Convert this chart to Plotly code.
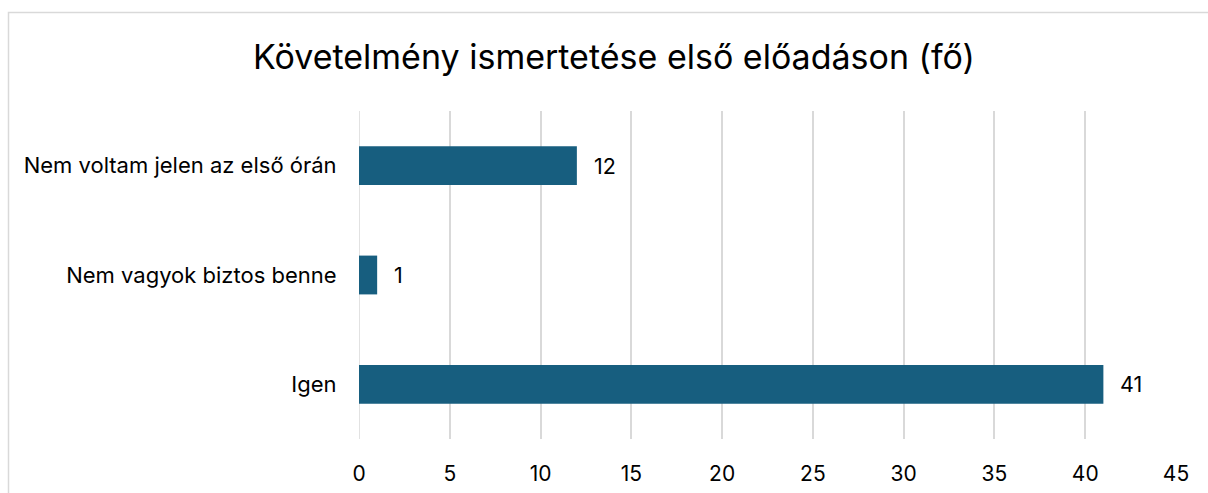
import plotly.graph_objects as go

categories = ["Igen", "Nem vagyok biztos benne", "Nem voltam jelen az első órán"]
values = [41, 1, 12]
tick_vals = [0, 5, 10, 15, 20, 25, 30, 35, 40, 45]
title_text = "Követelmény ismertetése első előadáson (fő)"

FONT = "Inter, Lato, sans-serif"
W, H = 1208, 493
ML, MT = 359, 111
PW, PH = 817, 328
MR = W - ML - PW
MB = H - MT - PH

fig = go.Figure()
fig.add_trace(go.Bar(
    y=categories, x=values, orientation="h",
    marker=dict(color="#175E7F", line=dict(width=0)),
    width=0.355, hoverinfo="skip",
))

for c, v in zip(categories, values):
    fig.add_annotation(x=v, y=c, text=str(v), showarrow=False,
                       xanchor="left", xshift=15, font=dict(size=21.5, color="#000", family=FONT))

fig.add_shape(type="rect", xref="paper", yref="paper",
              x0=(8.5 - ML) / PW, x1=(W + 20 - ML) / PW,
              y0=(MT + PH - (H + 20)) / PH, y1=(MT + PH - 12.5) / PH,
              line=dict(color="#d9d9d9", width=1.5), fillcolor="rgba(0,0,0,0)", layer="below")

fig.update_layout(
    width=W, height=H,
    margin=dict(l=ML, r=MR, t=MT, b=MB, autoexpand=False),
    paper_bgcolor="white", plot_bgcolor="white",
    title=dict(text=title_text, x=(614 - ML) / PW, xref="paper", xanchor="center",
               y=1 - 57 / H, yanchor="middle", yref="container",
               font=dict(size=34, color="#000", family=FONT)),
    showlegend=False,
    font=dict(family=FONT, color="#000"),
    xaxis=dict(range=[0, 45], tickvals=tick_vals, showgrid=True, gridcolor="#d9d9d9", gridwidth=1.5,
               zeroline=False, showline=False, ticks="outside", ticklen=16, tickcolor="rgba(0,0,0,0)",
               tickfont=dict(size=21, color="#000", family=FONT), fixedrange=True, automargin=False),
    yaxis=dict(categoryorder="array", categoryarray=categories, range=[-0.5, 2.5],
               showgrid=False, zeroline=False, showline=False, automargin=False,
               ticks="outside", ticklen=17, tickcolor="rgba(0,0,0,0)",
               tickfont=dict(size=22, color="#000", family=FONT)),
)
fig.add_shape(type="line", xref="x", yref="paper", x0=0, x1=0, y0=0, y1=1,
              line=dict(color="#d9d9d9", width=1.5), layer="below")

fig.write_html("out.html",
               config={"displayModeBar": False},
               post_script="document.body.style.margin='0';document.body.style.overflow='hidden';"
                           "document.documentElement.style.overflow='hidden';")
